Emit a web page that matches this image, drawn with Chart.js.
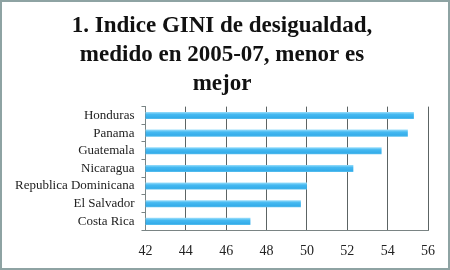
<!DOCTYPE html>
<html>
<head>
<meta charset="utf-8">
<script src="https://cdn.jsdelivr.net/npm/chart.js@4/dist/chart.umd.min.js"></script>
<style>
    html, body { margin: 0; padding: 0; background: #fff; }
    #box {
        width: 450px; height: 270px; box-sizing: border-box;
        border: 2px solid #8ea3a3; background: #fff;
    }
</style>
</head>
<body>
<div id="box"><canvas id="gini" width="446" height="266"></canvas></div>
<script>
const countries = ['Honduras', 'Panama', 'Guatemala', 'Nicaragua', 'Republica Dominicana', 'El Salvador', 'Costa Rica'];
const giniValues = [55.3, 55.0, 53.7, 52.3, 50.0, 49.7, 47.2];
const titleLines = ['1. Indice GINI de desigualdad,', 'medido en 2005-07, menor es', 'mejor'];

const serif = '"Liberation Serif", "DejaVu Serif", serif';

// light-blue bar with a shiny top edge, like the office chart
function barFill(context) {
    const chart = context.chart;
    const yScale = chart.scales.y;
    if (!yScale || context.dataIndex === undefined) return '#3fb5ef';
    const centre = yScale.getPixelForValue(context.dataIndex);
    const half = (yScale.height / countries.length) * 0.4 / 2;
    if (!isFinite(centre) || !isFinite(half) || half <= 0) return '#3fb5ef';
    const g = chart.ctx.createLinearGradient(0, centre - half, 0, centre + half);
    g.addColorStop(0, '#9ee0fc');
    g.addColorStop(0.35, '#45b9f1');
    g.addColorStop(0.8, '#35adea');
    g.addColorStop(1, '#5cc0ee');
    return g;
}

const config = {
    type: 'bar',
    data: {
        labels: countries,
        datasets: [{
            label: 'GINI',
            data: giniValues,
            backgroundColor: barFill,
            borderWidth: 0,
            categoryPercentage: 1,
            barPercentage: 0.4,
        }]
    },
    options: {
        indexAxis: 'y',
        responsive: false,
        animation: false,
        layout: { padding: { left: 6, right: 12, top: 5, bottom: -5 } },
        plugins: {
            legend: { display: false },
            tooltip: { enabled: false },
            title: {
                display: true,
                text: titleLines,
                color: '#111',
                font: { family: serif, size: 23, weight: 'bold', lineHeight: 1.27 },
                padding: { top: 4, bottom: 8 },
            },
        },
        scales: {
            x: {
                min: 42,
                max: 56,
                ticks: {
                    stepSize: 2,
                    color: '#222',
                    padding: 13,
                    font: { family: serif, size: 14 },
                },
                grid: { color: '#5c6464', drawTicks: false },
                border: { color: '#7a8484' },
            },
            y: {
                ticks: {
                    autoSkip: false,
                    color: '#222',
                    padding: 7,
                    font: { family: serif, size: 13 },
                },
                grid: { drawOnChartArea: false, color: '#7a8484', tickLength: 4 },
                border: { color: '#7a8484' },
            },
        },
    },
};

new Chart(document.getElementById('gini'), config);
</script>
</body>
</html>
